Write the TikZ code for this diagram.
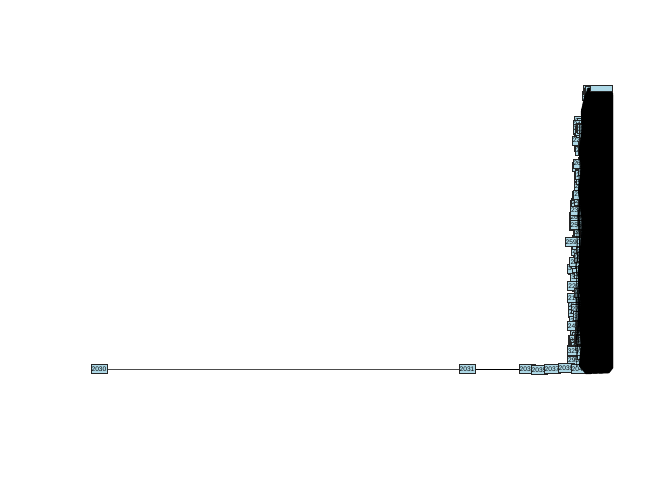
\documentclass[tikz,border=0pt]{standalone}
\usepackage{fontspec}
\setmainfont{Liberation Sans}
\definecolor{lb}{HTML}{ADD8E6}
\pgfdeclarelayer{bg}
\pgfsetlayers{bg,main}
\begin{document}
\begin{tikzpicture}[x=1pt,y=-1pt,
  nb/.style={draw=black!85,fill=lb,line width=0.45pt,inner sep=0.8pt,
    font=\fontsize{6.6}{7}\selectfont,minimum height=9pt},
  edge/.style={draw=black,line width=0.35pt},
  core/.style={fill=black,draw=black}]
\useasboundingbox (0,0) rectangle (672,480);
\pgfmathsetseed{7}
% isolated chain
\node[nb] (a2030) at (99,369) {2030};
\node[nb] (a2031) at (467,369) {2031};
% dense cluster
\foreach \i in {1,...,320}{
  \pgfmathsetmacro\yy{90+278*rnd}
  \pgfmathsetmacro\L{(\yy<110)?579:((\yy<200)?569:((\yy<260)?566:564))}
  \pgfmathsetmacro\xx{\L+11+rnd*(600-\L-11)}
  \pgfmathtruncatemacro\lab{random(2040,3300)}
  \node[nb] (n\i) at (\xx,\yy) {\lab};
}
\node[nb] (b1) at (527,369) {2033};
\node[nb] (b2) at (539,370) {2035};
\node[nb] (b3) at (552,369) {2037};
\node[nb] (b4) at (566,368) {2039};
\node[nb] (b5) at (579,369) {2041};
\node[nb] (k1) at (573,242) {2590};
\begin{pgfonlayer}{bg}
  \draw[edge,draw=black!70] (a2030) -- (a2031);
  \draw[edge,line width=0.8pt] (a2031) -- (b1);
  \draw[edge] (b1) -- (b2) -- (b3) -- (b4) -- (b5) -- (n1);
  \foreach \i in {2,...,320}{
    \pgfmathtruncatemacro\j{random(1,\i-1)}
    \draw[edge] (n\i.center) -- (n\j.center);
  }
\end{pgfonlayer}
% edges crossing the boxes
\foreach \i in {2,...,320}{
  \pgfmathtruncatemacro\j{random(1,\i-1)}
  \draw[edge,line width=0.25pt] (n\i.center) -- (n\j.center);
}
% dark core of overlapping nodes and edges
\fill[core] (588,88) -- (612,86) -- (613,95) -- (613,368) -- (609,373)
  -- (586,374) -- (579,366) -- (581,345) -- (579,320) -- (581,300)
  -- (578,280) -- (580,255) -- (583,232) -- (581,210) -- (578,190)
  -- (581,170) -- (579,150) -- (582,130) -- (581,112) -- (584,98) -- cycle;
\node[nb,minimum width=22pt,minimum height=6pt] (top) at (601,88) {};
\end{tikzpicture}
\end{document}
